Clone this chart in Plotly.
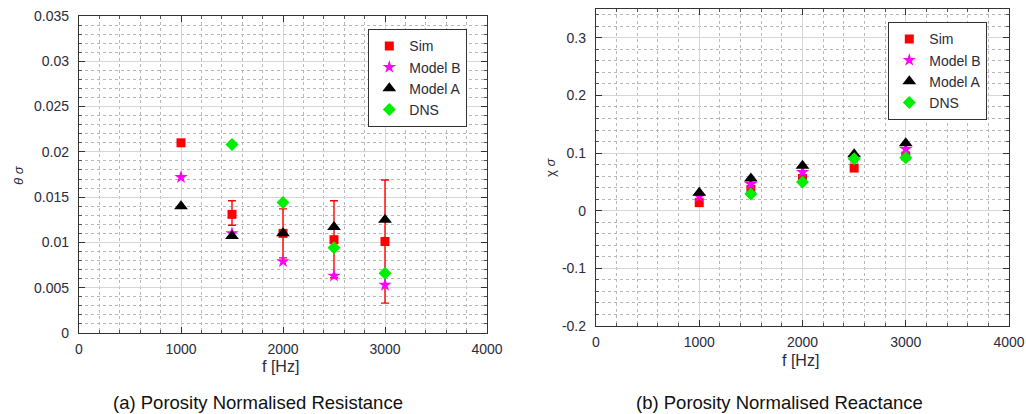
import plotly.graph_objects as go

freq = [1000, 1500, 2000, 2500, 3000]

theta_sim = [0.0210, 0.0131, 0.0110, 0.0103, 0.0101]
theta_sim_hi = [0.0210, 0.0146, 0.0137, 0.0146, 0.0169]
theta_sim_lo = [0.0210, 0.0119, 0.0083, 0.0061, 0.0033]
theta_modelB = [0.0172, 0.0110, 0.0079, 0.0063, 0.0053]
theta_modelA = [0.0140, 0.0107, 0.0110, 0.0117, 0.0125]
theta_dns = [None, 0.0208, 0.0144, 0.0094, 0.0066]

chi_sim = [0.014, 0.037, 0.056, 0.074, 0.095]
chi_modelB = [0.025, 0.046, 0.067, 0.092, 0.107]
chi_modelA = [0.031, 0.056, 0.078, 0.098, 0.117]
chi_dns = [None, 0.029, 0.050, 0.090, 0.092]

x_ticks = [0, 1000, 2000, 3000, 4000]
theta_ticks = [0, 0.005, 0.01, 0.015, 0.02, 0.025, 0.03, 0.035]
theta_ticktext = ["0", "0.005", "0.01", "0.015", "0.02", "0.025", "0.03", "0.035"]
chi_ticks = [-0.2, -0.1, 0, 0.1, 0.2, 0.3]
chi_ticktext = ["-0.2", "-0.1", "0", "0.1", "0.2", "0.3"]

FONT = "Liberation Sans, Arial, sans-serif"
TXT = "#2b2b3b"
RED, PINK, BLACK, GREEN = "#ff0000", "#ff00ff", "#000000", "#00ee00"
W, H = 1026, 414

fig = go.Figure()


def add_series(xa, ya, leg, sim, mb, ma, dns, err=None):
    ey = None
    if err is not None:
        hi, lo = err
        ey = dict(type="data", symmetric=False,
                  array=[h - v for h, v in zip(hi, sim)],
                  arrayminus=[v - l for v, l in zip(sim, lo)],
                  color=RED, thickness=1.4, width=4)
    fig.add_trace(go.Scatter(x=freq, y=sim, mode="markers", name="Sim", xaxis=xa, yaxis=ya,
                             legend=leg, error_y=ey,
                             marker=dict(symbol="square", size=9, color=RED)))
    fig.add_trace(go.Scatter(x=freq, y=mb, mode="markers", name="Model B", xaxis=xa, yaxis=ya,
                             legend=leg, marker=dict(symbol="star", size=10, color=PINK)))
    fig.add_trace(go.Scatter(x=freq, y=ma, mode="markers", name="Model A", xaxis=xa, yaxis=ya,
                             legend=leg, marker=dict(symbol="triangle-up", size=12, color=BLACK)))
    fig.add_trace(go.Scatter(x=freq, y=dns, mode="markers", name="DNS", xaxis=xa, yaxis=ya,
                             legend=leg, marker=dict(symbol="diamond", size=10, color=GREEN)))


add_series("x", "y", "legend", theta_sim, theta_modelB, theta_modelA, theta_dns,
           err=(theta_sim_hi, theta_sim_lo))
add_series("x2", "y2", "legend2", chi_sim, chi_modelB, chi_modelA, chi_dns)


def axis(**kw):
    d = dict(showline=True, linecolor="#333333", linewidth=1.3, mirror="allticks",
             ticks="inside", ticklen=6, tickcolor="#333333", tickwidth=1,
             showgrid=True, gridcolor="#d6d6d6", gridwidth=1.4,
             zeroline=False, automargin=False, ticklabelstandoff=6,
             tickfont=dict(family=FONT, size=14, color=TXT))
    d.update(kw)
    return d


def minor(dt):
    return dict(dtick=dt, showgrid=True, gridcolor="#b8b8b8", griddash="dot", gridwidth=1,
                ticks="inside", ticklen=3, tickcolor="#555555")


def legend(x0, y0):
    return dict(x=x0 / W, y=1 - y0 / H, xanchor="left", yanchor="top",
                bgcolor="white", bordercolor="#333333", borderwidth=1.3,
                font=dict(family=FONT, size=14, color=TXT), tracegroupgap=0,
                itemwidth=30)


fig.update_layout(
    width=W, height=H,
    margin=dict(l=0, r=0, t=0, b=0),
    paper_bgcolor="white", plot_bgcolor="white",
    font=dict(family=FONT, size=14, color=TXT),
    xaxis=axis(domain=[79 / W, 487 / W], range=[0, 4000], tickvals=x_ticks, anchor="y",
               minor=minor(200), ticklabelstandoff=3),
    yaxis=axis(domain=[1 - 333 / H, 1 - 16 / H], range=[0, 0.035], tickvals=theta_ticks,
               ticktext=theta_ticktext, anchor="x", minor=minor(0.001)),
    xaxis2=axis(domain=[596 / W, 1009 / W], range=[0, 4000], tickvals=x_ticks, anchor="y2",
                minor=minor(200), ticklabelstandoff=3),
    yaxis2=axis(domain=[1 - 326 / H, 1 - 9 / H], range=[-0.2, 0.35], tickvals=chi_ticks,
                ticktext=chi_ticktext, anchor="x2", minor=minor(0.02)),
    legend=legend(368, 29),
    legend2=legend(888, 22),
    annotations=[
        dict(text="f [Hz]", xref="paper", yref="paper", x=280 / W, y=1 - 366 / H,
             showarrow=False, xanchor="center", yanchor="middle",
             font=dict(family=FONT, size=16, color=TXT)),
        dict(text="f [Hz]", xref="paper", yref="paper", x=800 / W, y=1 - 360 / H,
             showarrow=False, xanchor="center", yanchor="middle",
             font=dict(family=FONT, size=16, color=TXT)),
        dict(text="<i>θ</i> <i>σ</i>", xref="paper", yref="paper", x=18 / W, y=1 - 175 / H,
             showarrow=False, xanchor="center", yanchor="middle", textangle=-90,
             font=dict(family=FONT, size=13, color=TXT)),
        dict(text="χ <i>σ</i>", xref="paper", yref="paper", x=550 / W, y=1 - 168 / H,
             showarrow=False, xanchor="center", yanchor="middle", textangle=-90,
             font=dict(family=FONT, size=13, color=TXT)),
        dict(text="(a) Porosity Normalised Resistance", xref="paper", yref="paper",
             x=258 / W, y=1 - 402 / H, showarrow=False, xanchor="center", yanchor="middle",
             font=dict(family=FONT, size=18.5, color="#111111")),
        dict(text="(b) Porosity Normalised Reactance", xref="paper", yref="paper",
             x=779 / W, y=1 - 402 / H, showarrow=False, xanchor="center", yanchor="middle",
             font=dict(family=FONT, size=18.5, color="#111111")),
    ],
)

fig.write_html("out.html", config={"displayModeBar": False},
               post_script="document.body.style.margin='0';document.body.style.overflow='hidden';")
